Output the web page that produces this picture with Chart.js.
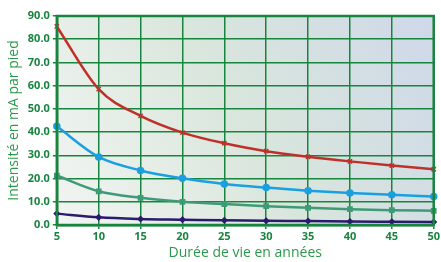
<!DOCTYPE html>
<html>
<head>
<meta charset="utf-8">
<script src="https://cdn.jsdelivr.net/npm/chart.js@4"></script>
<style>
  html, body { margin: 0; padding: 0; background: #fff; }
  #wrap { width: 441px; height: 262px; }
</style>
</head>
<body>
<div id="wrap"><canvas id="chart"></canvas></div>
<script>
// Data
const years = [5, 10, 15, 20, 25, 30, 35, 40, 45, 50];
const redSeries = [85.5, 58.5, 47.0, 39.8, 35.2, 31.8, 29.4, 27.4, 25.6, 24.0];
const blueSeries = [42.5, 29.3, 23.5, 20.1, 17.7, 16.1, 14.8, 13.8, 13.0, 12.3];
const tealSeries = [21.3, 14.5, 11.7, 10.0, 9.0, 8.1, 7.4, 6.8, 6.4, 6.1];
const navySeries = [4.9, 3.3, 2.6, 2.3, 2.0, 1.8, 1.7, 1.5, 1.4, 1.3];

const gridGreen = "#18853f";

// Gradient background and thick frame around the plot area
const plotFrame = {
  id: "plotFrame",
  beforeDraw(chart) {
    const { ctx, chartArea: a } = chart;
    const g = ctx.createLinearGradient(a.left, a.bottom, a.right, a.top);
    g.addColorStop(0, "#f2f5f2");
    g.addColorStop(0.5, "#d9e6dc");
    g.addColorStop(1, "#cfd8ea");
    ctx.save();
    ctx.fillStyle = g;
    ctx.fillRect(a.left, a.top, a.right - a.left, a.bottom - a.top);
    ctx.restore();
  },
  afterDraw(chart) {
    const { ctx, chartArea: a } = chart;
    ctx.save();
    ctx.strokeStyle = gridGreen;
    ctx.lineWidth = 2.5;
    ctx.strokeRect(a.left, a.top, a.right - a.left, a.bottom - a.top);
    ctx.restore();
  }
};

function makeSet(data, color, style, radius) {
  return {
    data: data,
    borderColor: color,
    backgroundColor: color,
    borderWidth: 2.5,
    pointStyle: style,
    pointRadius: radius,
    pointBorderWidth: 1.5,
    cubicInterpolationMode: "monotone",
    clip: false
  };
}

const ctx = document.getElementById("chart").getContext("2d");
new Chart(ctx, {
  type: "line",
  data: {
    labels: years,
    datasets: [
      makeSet(redSeries, "#c0302a", "crossRot", 3),
      makeSet(blueSeries, "#1a9fe0", "circle", 3),
      makeSet(tealSeries, "#3f9a78", "rect", 3),
      makeSet(navySeries, "#2b1a6e", "rectRot", 2.5)
    ]
  },
  options: {
    responsive: true,
    maintainAspectRatio: false,
    animation: false,
    layout: { padding: { top: 16, right: 3, left: 6, bottom: 1 } },
    plugins: {
      legend: { display: false },
      tooltip: { enabled: false }
    },
    scales: {
      x: {
        type: "linear",
        min: 5,
        max: 50,
        ticks: {
          stepSize: 5,
          color: gridGreen,
          font: { family: "Open Sans", weight: "bold", size: 11 },
          padding: 1
        },
        grid: { color: gridGreen, lineWidth: 1.5, tickLength: 4 },
        border: { color: gridGreen, width: 2.5 },
        title: {
          display: true,
          text: "Durée de vie en années",
          color: "#2a9a4a",
          font: { family: "Open Sans", size: 14 },
          padding: { top: 0, bottom: 0 }
        }
      },
      y: {
        min: 0,
        max: 90,
        ticks: {
          stepSize: 10,
          color: gridGreen,
          font: { family: "Open Sans", weight: "bold", size: 11 },
          padding: 3,
          callback: (v) => v.toFixed(1)
        },
        grid: { color: gridGreen, lineWidth: 1.5, tickLength: 4 },
        border: { color: gridGreen, width: 2.5 },
        title: {
          display: true,
          text: "Intensité en mA par pied",
          color: "#2a9a4a",
          font: { family: "Open Sans", size: 14 },
          padding: { top: 0, bottom: 2 }
        }
      }
    }
  },
  plugins: [plotFrame]
});
</script>
</body>
</html>
